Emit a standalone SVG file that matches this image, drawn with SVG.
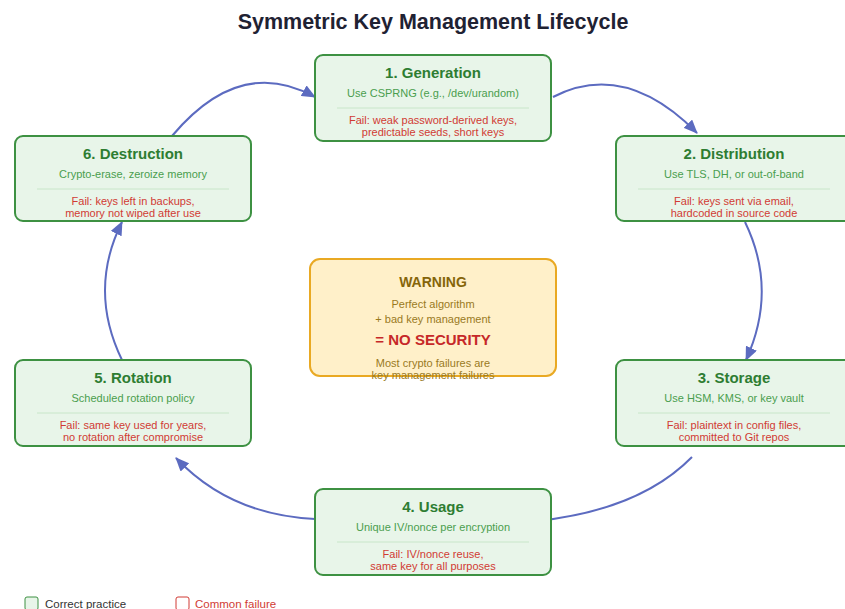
<svg xmlns="http://www.w3.org/2000/svg" width="845" height="609" viewBox="0 0 845 609">
  <defs>
    <marker id="arrow" markerUnits="userSpaceOnUse" markerWidth="14" markerHeight="12" refX="13" refY="6" orient="auto">
      <path d="M0,0 L14,6 L0,12 Z" fill="#5c6bc0"/>
    </marker>
    <style>
      text { font-family: "Liberation Sans", Arial, sans-serif; text-anchor: middle; }
      .title { font-size: 21.5px; font-weight: bold; fill: #1f2233; }
      .box { fill: #e8f5e9; stroke: #3d9142; stroke-width: 2; }
      .ntitle { font-size: 15px; font-weight: bold; fill: #2e7d32; }
      .nsub { font-size: 11px; fill: #4a9e4e; }
      .sep { stroke: #c8e6c9; stroke-width: 1; }
      .fail { font-size: 11px; fill: #d13b34; }
      .conn { fill: none; stroke: #5c6bc0; stroke-width: 2; marker-end: url(#arrow); }
      .warnbox { fill: #fff0c9; stroke: #e9a923; stroke-width: 2; }
      .warnhead { font-size: 14px; font-weight: bold; fill: #85650a; }
      .warntxt { font-size: 11px; fill: #9a7a1e; }
      .nosec { font-size: 15px; font-weight: bold; fill: #c62828; }
      .legend { font-size: 11.5px; text-anchor: start; }
    </style>
  </defs>

  <text class="title" x="433" y="29">Symmetric Key Management Lifecycle</text>

  <!-- lifecycle connectors, drawn beneath the stage boxes -->
  <g id="connectors">
    <path class="conn" d="M553,97 Q625,60 697,133"/>
    <path class="conn" d="M745,222 Q778,290 746,360"/>
    <path class="conn" d="M692,457 Q640,510 537,521"/>
    <path class="conn" d="M315,519 Q230,515 176,458"/>
    <path class="conn" d="M122,360 Q88,290 122,222"/>
    <path class="conn" d="M172,136 Q240,55 315,97"/>
  </g>

  <g id="generation">
    <rect class="box" x="315" y="55" width="236" height="86" rx="8"/>
    <text class="ntitle" x="433" y="78">1. Generation</text>
    <text class="nsub" x="433" y="97">Use CSPRNG (e.g., /dev/urandom)</text>
    <line class="sep" x1="337" y1="108" x2="529" y2="108"/>
    <text class="fail" x="433" y="124">Fail: weak password-derived keys,</text>
    <text class="fail" x="433" y="136">predictable seeds, short keys</text>
  </g>

  <g id="distribution">
    <rect class="box" x="616" y="136" width="236" height="85" rx="8"/>
    <text class="ntitle" x="734" y="159">2. Distribution</text>
    <text class="nsub" x="734" y="178">Use TLS, DH, or out-of-band</text>
    <line class="sep" x1="638" y1="189" x2="830" y2="189"/>
    <text class="fail" x="734" y="205">Fail: keys sent via email,</text>
    <text class="fail" x="734" y="217">hardcoded in source code</text>
  </g>

  <g id="storage">
    <rect class="box" x="616" y="360" width="236" height="86" rx="8"/>
    <text class="ntitle" x="734" y="383">3. Storage</text>
    <text class="nsub" x="734" y="402">Use HSM, KMS, or key vault</text>
    <line class="sep" x1="638" y1="413" x2="830" y2="413"/>
    <text class="fail" x="734" y="429">Fail: plaintext in config files,</text>
    <text class="fail" x="734" y="441">committed to Git repos</text>
  </g>

  <g id="usage">
    <rect class="box" x="315" y="489" width="236" height="86" rx="8"/>
    <text class="ntitle" x="433" y="512">4. Usage</text>
    <text class="nsub" x="433" y="531">Unique IV/nonce per encryption</text>
    <line class="sep" x1="337" y1="542" x2="529" y2="542"/>
    <text class="fail" x="433" y="558">Fail: IV/nonce reuse,</text>
    <text class="fail" x="433" y="570">same key for all purposes</text>
  </g>

  <g id="rotation">
    <rect class="box" x="15" y="360" width="236" height="86" rx="8"/>
    <text class="ntitle" x="133" y="383">5. Rotation</text>
    <text class="nsub" x="133" y="402">Scheduled rotation policy</text>
    <line class="sep" x1="37" y1="413" x2="229" y2="413"/>
    <text class="fail" x="133" y="429">Fail: same key used for years,</text>
    <text class="fail" x="133" y="441">no rotation after compromise</text>
  </g>

  <g id="destruction">
    <rect class="box" x="15" y="136" width="236" height="85" rx="8"/>
    <text class="ntitle" x="133" y="159">6. Destruction</text>
    <text class="nsub" x="133" y="178">Crypto-erase, zeroize memory</text>
    <line class="sep" x1="37" y1="189" x2="229" y2="189"/>
    <text class="fail" x="133" y="205">Fail: keys left in backups,</text>
    <text class="fail" x="133" y="217">memory not wiped after use</text>
  </g>

  <g id="warning">
    <rect class="warnbox" x="310" y="259" width="246" height="117" rx="10"/>
    <text class="warnhead" x="433" y="287">WARNING</text>
    <text class="warntxt" x="433" y="308">Perfect algorithm</text>
    <text class="warntxt" x="433" y="323">+ bad key management</text>
    <text class="nosec" x="433" y="345">= NO SECURITY</text>
    <text class="warntxt" x="433" y="367">Most crypto failures are</text>
    <text class="warntxt" x="433" y="379">key management failures</text>
  </g>

  <g id="legend">
    <rect x="25" y="597" width="13" height="13" rx="2" fill="#e8f5e9" stroke="#3d9142" stroke-width="1"/>
    <text class="legend" x="45" y="608" fill="#333">Correct practice</text>
    <rect x="176" y="597" width="13" height="13" rx="2" fill="#ffffff" stroke="#d13b34" stroke-width="1"/>
    <text class="legend" x="195" y="608" fill="#d13b34">Common failure</text>
  </g>
</svg>
